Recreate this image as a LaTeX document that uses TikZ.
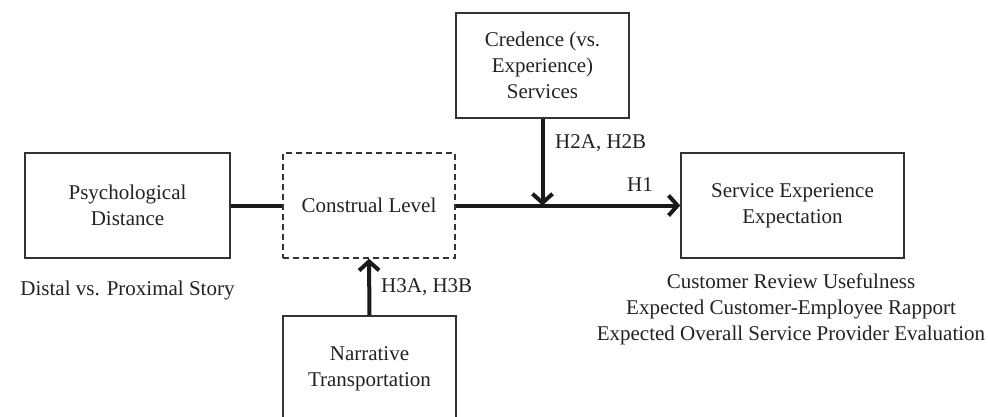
\documentclass[tikz,border=0pt]{standalone}
\usepackage{fontspec}
\setmainfont{Liberation Serif}
\usetikzlibrary{arrows.meta}
\definecolor{boxgray}{HTML}{333333}
\definecolor{linedark}{HTML}{1A1A1A}
\definecolor{txtgray}{HTML}{222222}
\begin{document}
\begin{tikzpicture}[x=1pt,y=-1pt,
  box/.style={draw=boxgray, line width=1.5pt, inner sep=0pt, align=center,
    text=txtgray, font=\fontsize{21}{26}\selectfont},
  dashbox/.style={box, dash pattern=on 6pt off 4pt},
  lbl/.style={inner sep=0pt, text=txtgray, font=\fontsize{21}{26}\selectfont, align=center},
  conn/.style={draw=linedark, line width=4pt},
  barb/.style={-{Straight Barb[length=9pt,width=20pt,line width=4pt]}}]
\useasboundingbox (0,0) rectangle (988,416);
\clip (0,0) rectangle (988,416);
\node[box, minimum width=205pt, minimum height=105pt] (psy) at (127.5,205.5) {Psychological\\Distance};
\node[dashbox, minimum width=172pt, minimum height=105pt] (con) at (369,205.5) {Construal Level};
\node[box, minimum width=173pt, minimum height=105pt] (cre) at (542.5,65.5) {Credence (vs.\\Experience)\\Services};
\node[box, minimum width=223pt, minimum height=105pt] (ser) at (792.5,205.5) {Service Experience\\Expectation};
\node[box, minimum width=173pt, minimum height=105pt] (nar) at (369.5,368.5) {Narrative\\Transportation};
\coordinate (j) at (cre.south |- ser.west);
\draw[conn] (psy.east) -- (con.west);
\draw[conn, barb] (con.east) -- (ser.west);
\draw[conn, barb] (cre.south) -- (j);
\draw[conn, barb] (nar.north) -- (con.south);
\node[lbl, anchor=west] (h2) at (555,143) {H2A, H2B};
\node[lbl] (h1) at (640,185) {H1};
\node[lbl, anchor=west] (h3) at (381,287) {H3A, H3B};
\node[lbl] (dist) at (127.5,290) {Distal vs. Proximal Story};
\node[lbl] (meas) at (791,309) {Customer Review Usefulness\\Expected Customer-Employee Rapport\\Expected Overall Service Provider Evaluation};
\end{tikzpicture}
\end{document}
